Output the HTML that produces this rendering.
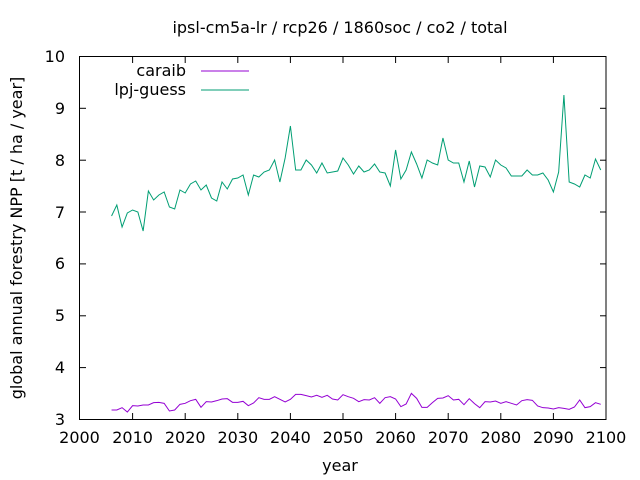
<!DOCTYPE html>
<html><head><meta charset="utf-8"><style>body{margin:0;background:#fff}svg{display:block}text{font-family:"DejaVu Sans","Liberation Sans",sans-serif;font-size:16px;fill:#000}</style></head><body>
<svg width="640" height="480" xmlns="http://www.w3.org/2000/svg">
<rect width="640" height="480" fill="#fff"/>
<text x="340" y="33" text-anchor="middle">ipsl-cm5a-lr / rcp26 / 1860soc / co2 / total</text>
<rect x="79.5" y="56.5" width="526.5" height="363" fill="none" stroke="#000"/>
<g stroke="#000">
<line x1="132.6" y1="419" x2="132.6" y2="413"/><line x1="132.6" y1="57" x2="132.6" y2="63"/>
<line x1="185.2" y1="419" x2="185.2" y2="413"/><line x1="185.2" y1="57" x2="185.2" y2="63"/>
<line x1="237.8" y1="419" x2="237.8" y2="413"/><line x1="237.8" y1="57" x2="237.8" y2="63"/>
<line x1="290.4" y1="419" x2="290.4" y2="413"/><line x1="290.4" y1="57" x2="290.4" y2="63"/>
<line x1="343" y1="419" x2="343" y2="413"/><line x1="343" y1="57" x2="343" y2="63"/>
<line x1="395.6" y1="419" x2="395.6" y2="413"/><line x1="395.6" y1="57" x2="395.6" y2="63"/>
<line x1="448.2" y1="419" x2="448.2" y2="413"/><line x1="448.2" y1="57" x2="448.2" y2="63"/>
<line x1="500.8" y1="419" x2="500.8" y2="413"/><line x1="500.8" y1="57" x2="500.8" y2="63"/>
<line x1="553.4" y1="419" x2="553.4" y2="413"/><line x1="553.4" y1="57" x2="553.4" y2="63"/>
<line x1="80" y1="367.6" x2="86" y2="367.6"/><line x1="606" y1="367.6" x2="600" y2="367.6"/>
<line x1="80" y1="315.8" x2="86" y2="315.8"/><line x1="606" y1="315.8" x2="600" y2="315.8"/>
<line x1="80" y1="263.9" x2="86" y2="263.9"/><line x1="606" y1="263.9" x2="600" y2="263.9"/>
<line x1="80" y1="212" x2="86" y2="212"/><line x1="606" y1="212" x2="600" y2="212"/>
<line x1="80" y1="160.2" x2="86" y2="160.2"/><line x1="606" y1="160.2" x2="600" y2="160.2"/>
<line x1="80" y1="108.3" x2="86" y2="108.3"/><line x1="606" y1="108.3" x2="600" y2="108.3"/>
</g>
<g text-anchor="middle">
<text x="79.5" y="443">2000</text><text x="132.6" y="443">2010</text><text x="185.2" y="443">2020</text><text x="237.8" y="443">2030</text><text x="290.4" y="443">2040</text><text x="343" y="443">2050</text><text x="395.6" y="443">2060</text><text x="448.2" y="443">2070</text><text x="500.8" y="443">2080</text><text x="553.4" y="443">2090</text><text x="606" y="443">2100</text>
</g>
<g text-anchor="end">
<text x="65" y="425">3</text><text x="65" y="373">4</text><text x="65" y="321">5</text><text x="65" y="269">6</text><text x="65" y="218">7</text><text x="65" y="166">8</text><text x="65" y="114">9</text><text x="65" y="62">10</text>
</g>
<text x="340" y="471" text-anchor="middle">year</text>
<text transform="translate(22,238) rotate(-90)" text-anchor="middle">global annual forestry NPP [t / ha / year]</text>
<text x="186" y="76" text-anchor="end">caraib</text>
<text x="186" y="95" text-anchor="end">lpj-guess</text>
<line x1="201" y1="71" x2="249" y2="71" stroke="#9400d3"/>
<line x1="201" y1="90" x2="249" y2="90" stroke="#009e73"/>
<polyline id="g" fill="none" stroke="#009e73" stroke-width="1"/>
<polyline id="p" fill="none" stroke="#9400d3" stroke-width="1"/>
<script>
var X=y=>80+(y-2000)*5.26;
var G=[216,205,227,213,210,212,231,191,200,195,192,207,209,190,193,184,181,190,185,198,201,182,189,179,178,175,195,175,177,172,170,160,182,158,126,170,170,160,165,173,163,173,172,171,158,165,174,166,172,170,164,172,173,186,150,179,170,152,164,178,160,163,165,138,160,163,163,182,161,187,166,167,177,160,165,168,176,176,176,170,175,175,173,180,192,172,95,182,184,187,175,178,159,170];
var P=[150,150,143,156,137,138,135,135,128,127,130,153,150,133,130,122,118,142,125,126,122,117,116,127,127,124,137,129,113,118,118,110,118,126,118,103,103,107,111,106,112,106,117,120,104,110,115,125,119,120,113,130,113,110,117,140,132,100,115,142,142,128,115,114,107,120,118,134,116,131,143,125,126,123,130,125,130,135,122,119,121,138,143,144,147,143,145,148,141,120,143,140,128,133];
document.getElementById('g').setAttribute('points',G.map((v,i)=>X(2006+i)+','+v).join(' '));
document.getElementById('p').setAttribute('points',P.map((v,i)=>X(2006+i)+','+(360+v/3)).join(' '));
</script>
</svg>
</body></html>
